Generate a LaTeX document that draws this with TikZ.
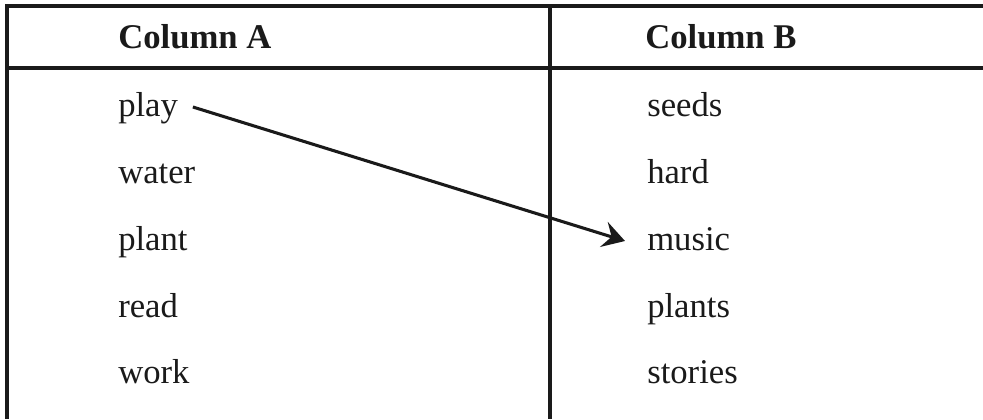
\documentclass[tikz,border=0pt]{standalone}
\usepackage{fontspec}
\setmainfont{Liberation Serif}
\usetikzlibrary{arrows.meta}
\definecolor{ink}{HTML}{1A1A1A}
\tikzset{
  rule/.style={draw=ink, line width=2.3pt},
  head/.style={anchor=base west, inner sep=0pt, font=\fontsize{26}{30}\selectfont\bfseries, text=ink},
  cell/.style={anchor=base west, inner sep=0pt, font=\fontsize{26}{30}\selectfont, text=ink},
  link/.style={draw=ink, line width=2.3pt, -{Stealth[length=16.5pt, width=19.5pt, inset=6pt]}}
}
\begin{document}
\begin{tikzpicture}[x=0.75pt, y=-0.75pt]
\useasboundingbox (0,0) rectangle (983,419);
% grid lines
\coordinate (tl) at (7,6);
\coordinate (tr) at (983,6);
\coordinate (hl) at (7,68);
\coordinate (hr) at (983,68);
\coordinate (bl) at (7,419);
\coordinate (dt) at (550,6);
\coordinate (db) at (550,419);
\draw[rule] (tr) -- (tl) -- (bl);
\draw[rule] (hl) -- (hr);
\draw[rule] (dt) -- (db);
% headers
\node[head] (ha) at (118,48) {Column A};
\node[head] (hb) at (645,48) {Column B};
% column A
\node[cell] (play) at (118,116) {play};
\node[cell] (water) at (118,183) {water};
\node[cell] (plant) at (118,250) {plant};
\node[cell] (read) at (118,317) {read};
\node[cell] (work) at (118,383) {work};
% column B
\node[cell] (seeds) at (647,116) {seeds};
\node[cell] (hard) at (647,183) {hard};
\node[cell] (music) at (647,250) {music};
\node[cell] (plants) at (647,317) {plants};
\node[cell] (stories) at (647,383) {stories};
% connector
\coordinate (from) at ([xshift=11pt, yshift=6.75pt]play.base east);
\coordinate (to) at ([xshift=-16.5pt, yshift=6.75pt]music.base west);
\draw[link] (from) -- (to);
\end{tikzpicture}
\end{document}
